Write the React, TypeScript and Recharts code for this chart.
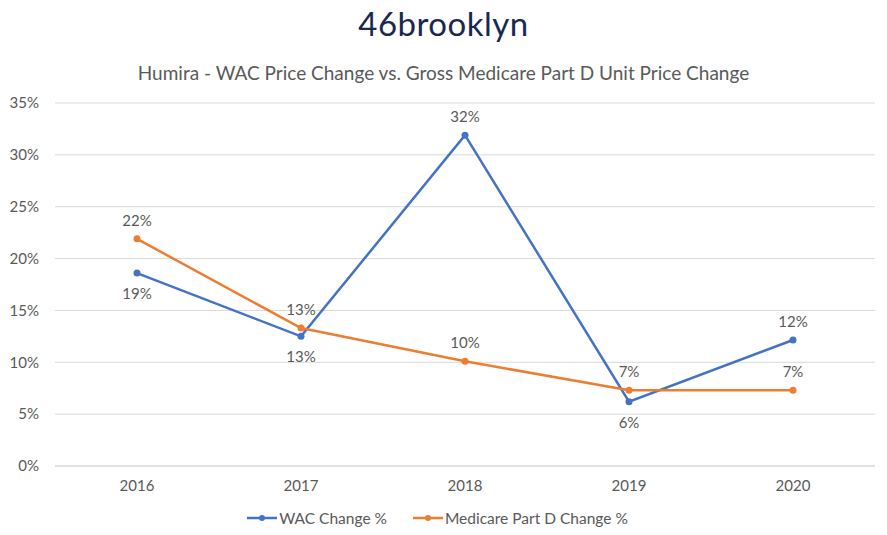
import { LineChart, Line, XAxis, YAxis, CartesianGrid, Legend, LabelList } from 'recharts';

const years = ['2016', '2017', '2018', '2019', '2020'];
const wacChange = [18.6, 12.5, 31.9, 6.2, 12.15];
const partDChange = [21.9, 13.3, 10.1, 7.3, 7.3];
const wacLabelBelow = [true, true, false, true, false];
const yTicks = [0, 5, 10, 15, 20, 25, 30, 35];

const data = years.map((year, i) => ({ year, wac: wacChange[i], partD: partDChange[i] }));

const FONT = 'Lato, "Noto Sans", sans-serif';
const GREY = '#595959';
const BLUE = '#4472c4';
const ORANGE = '#ed7d31';

const pct = (v: number) => `${Math.round(v)}%`;

function WacLabel(props: any) {
  const { x, y, value, index } = props;
  const below = wacLabelBelow[index];
  return (
    <text x={x} y={below ? y + 20 : y - 19} textAnchor="middle" dominantBaseline="central"
      fill={GREY} fontSize={15} fontFamily={FONT}>
      {pct(value)}
    </text>
  );
}

function PartDLabel(props: any) {
  const { x, y, value } = props;
  return (
    <text x={x} y={y - 19} textAnchor="middle" dominantBaseline="central"
      fill={GREY} fontSize={15} fontFamily={FONT}>
      {pct(value)}
    </text>
  );
}

function LegendContent() {
  const items = [
    { name: 'WAC Change %', color: BLUE },
    { name: 'Medicare Part D Change %', color: ORANGE },
  ];
  return (
    <div style={{ display: 'flex', justifyContent: 'center', alignItems: 'center', height: 30, gap: 26 }}>
      {items.map((it) => (
        <div key={it.name} style={{ display: 'flex', alignItems: 'center' }}>
          <svg width={30} height={10} style={{ marginRight: 2 }}>
            <line x1={0} y1={5} x2={30} y2={5} stroke={it.color} strokeWidth={2.5} />
            <circle cx={15} cy={5} r={3} fill={it.color} />
          </svg>
          <span style={{ fontFamily: FONT, fontSize: 15.5, color: GREY }}>{it.name}</span>
        </div>
      ))}
    </div>
  );
}

export default function App() {
  return (
    <div style={{ position: 'absolute', top: 0, left: 0, width: 887, height: 535, background: '#fff' }}>
      <div style={{ position: 'absolute', top: 3, left: 0, width: 887, textAlign: 'center',
        fontFamily: FONT, fontSize: 33, fontWeight: 400, color: '#1a2850', letterSpacing: 0.5 }}>
        46brooklyn
      </div>
      <div style={{ position: 'absolute', top: 61, left: 0, width: 887, textAlign: 'center',
        fontFamily: FONT, fontSize: 19, color: GREY }}>
        Humira - WAC Price Change vs. Gross Medicare Part D Unit Price Change
      </div>
      <LineChart width={887} height={535} data={data}
        margin={{ top: 103, right: 12, left: 0, bottom: 2 }}>
        <CartesianGrid vertical={false} stroke="#d9d9d9" />
        <XAxis dataKey="year" axisLine={{ stroke: '#d9d9d9' }} tickLine={false} height={37}
          padding={{ left: 82, right: 82 }}
          tickMargin={8} tick={{ fontSize: 15, fill: GREY, fontFamily: FONT }} />
        <YAxis domain={[0, 35]} ticks={yTicks} width={55} axisLine={false} tickLine={false}
          tickFormatter={(v) => `${v}%`} tickMargin={10}
          tick={{ fontSize: 15, fill: GREY, fontFamily: FONT }} />
        <Legend verticalAlign="bottom" content={<LegendContent />} />
        <Line type="linear" dataKey="wac" name="WAC Change %" stroke={BLUE} strokeWidth={2.5}
          dot={{ r: 3.5, fill: BLUE, stroke: BLUE, strokeWidth: 0 }} isAnimationActive={false}>
          <LabelList dataKey="wac" content={WacLabel} />
        </Line>
        <Line type="linear" dataKey="partD" name="Medicare Part D Change %" stroke={ORANGE} strokeWidth={2.5}
          dot={{ r: 3.5, fill: ORANGE, stroke: ORANGE, strokeWidth: 0 }} isAnimationActive={false}>
          <LabelList dataKey="partD" content={PartDLabel} />
        </Line>
      </LineChart>
    </div>
  );
}
